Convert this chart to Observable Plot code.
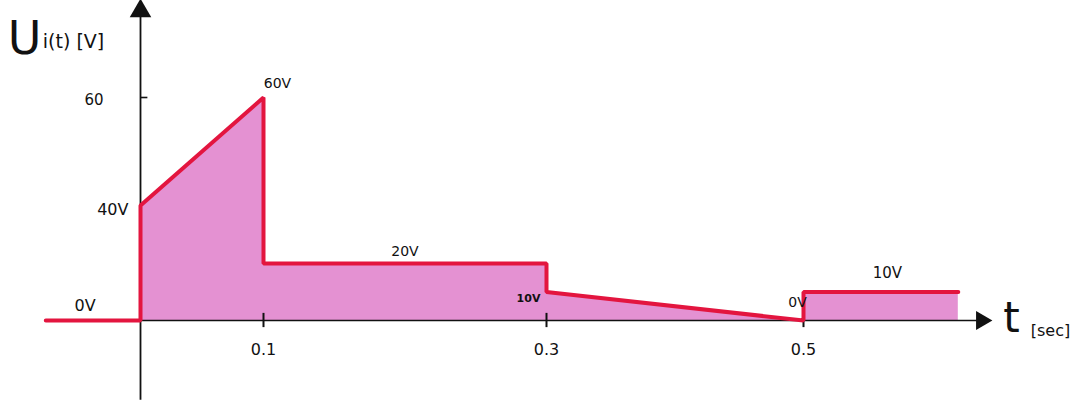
<!DOCTYPE html>
<html>
<head>
<meta charset="utf-8">
<script src="https://cdn.jsdelivr.net/npm/d3@7"></script>
<script src="https://cdn.jsdelivr.net/npm/@observablehq/plot@0.6"></script>
<style>
  html, body { margin: 0; padding: 0; background: #fff; }
  svg { display: block; }
</style>
</head>
<body>
<div id="chart"></div>
<script>
// Signal U_i(t) [V] vs t [sec]
const tPts = [-0.077, 0, 0, 0.1, 0.1, 0.3, 0.3, 0.5, 0.5, 0.62];
const uPts = [0, 0, 40, 60, 20, 20, 10, 0, 10, 10];
const xTicks = [0.1, 0.3, 0.5];
const xTickLabels = ["0.1", "0.3", "0.5"];
const yTicks = [0, 40, 60];
const yTickLabels = ["0V", "40V", "60"];
const annT = [0.1, 0.2, 0.3, 0.5, 0.565];
const annU = [60, 20, 10, 0, 10];
const annLabels = ["60V", "20V", "10V", "0V", "10V"];

const line = tPts.map((t, i) => ({t, u: uPts[i]}));
const area = line.filter(d => d.t >= 0);
const ann = annT.map((t, i) => ({t, u: annU[i], label: annLabels[i]}));

const red = "#e3153f";
const font = "DejaVu Sans, sans-serif";

const chart = Plot.plot({
  width: 1076,
  height: 403,
  margin: 0,
  style: {fontFamily: font, background: "#fff", overflow: "visible"},
  x: {type: "linear", domain: [0, 0.1, 0.3, 0.5, 0.6], range: [140, 263, 546, 803, 932], axis: null},
  y: {type: "linear", domain: [0, 20, 40, 60], range: [320, 263, 205, 97], axis: null},
  marks: [
    // filled area under signal (no stacking)
    Plot.area(area, {x1: "t", y1: 0, y2: "u", fill: "#d862bf", fillOpacity: 0.7}),
    // axes
    Plot.ruleY([0], {x1: -0.077, x2: 0.638, stroke: "#111", strokeWidth: 1.6}),
    Plot.ruleX([0], {y1: -28, y2: 76, stroke: "#111", strokeWidth: 1.8}),
    Plot.dot([{t: 0.638, u: 0}], {x: "t", y: "u", symbol: "triangle", rotate: 90, r: 7, fill: "#111", stroke: "none"}),
    Plot.dot([{t: 0, u: 76}], {x: "t", y: "u", symbol: "triangle", r: 8, fill: "#111", stroke: "none"}),
    // tick marks
    Plot.ruleX(xTicks, {y1: -2.5, y2: 2.5, stroke: "#111", strokeWidth: 2}),
    Plot.ruleY([60], {x1: 0, x2: 0.006, stroke: "#111", strokeWidth: 1.6}),
    // signal line
    Plot.line(line, {x: "t", y: "u", stroke: red, strokeWidth: 4, strokeLinejoin: "miter"}),
    // x tick labels
    Plot.text(xTicks, {x: d => d, y: 0, text: (d, i) => xTickLabels[i], dy: 29, fontSize: 16, fill: "#111", letterSpacing: 2}),
    // y tick labels
    Plot.text([yTicks[0]], {x: -0.045, y: d => d, text: () => yTickLabels[0], dy: -15, fontSize: 16, fill: "#111"}),
    Plot.text([yTicks[1]], {x: 0, y: d => d, text: () => yTickLabels[1], dx: -12, dy: 4, textAnchor: "end", fontSize: 16, fill: "#111"}),
    Plot.text([yTicks[2]], {x: 0, y: d => d, text: () => yTickLabels[2], dx: -37, dy: 3, textAnchor: "end", fontSize: 15, fill: "#111"}),
    // value annotations
    Plot.text([ann[0]], {x: "t", y: "u", text: "label", dx: 14, dy: -14, fontSize: 14, fill: "#111"}),
    Plot.text([ann[1]], {x: "t", y: "u", text: "label", dy: -12, fontSize: 14, fill: "#111"}),
    Plot.text([ann[2]], {x: "t", y: "u", text: "label", dx: -18, dy: 6, fontSize: 11, fontWeight: "bold", fill: "#111"}),
    Plot.text([ann[3]], {x: "t", y: "u", text: "label", dx: -6, dy: -18, fontSize: 14, fill: "#111"}),
    Plot.text([ann[4]], {x: "t", y: "u", text: "label", dy: -19, fontSize: 15, fill: "#111"}),
    // axis titles
    Plot.text(["U"], {x: -0.077, y: 77, text: d => d, dx: -38, dy: 34, fontSize: 46, fill: "#111", textAnchor: "start"}),
    Plot.text(["i(t) [V]"], {x: -0.077, y: 77, text: d => d, dx: -3, dy: 36, fontSize: 19, fill: "#111", textAnchor: "start"}),
    Plot.text(["t"], {x: 0.638, y: 0, text: d => d, dx: 30, dy: -2, fontSize: 42, fill: "#111"}),
    Plot.text(["[sec]"], {x: 0.638, y: 0, text: d => d, dx: 69, dy: 10, fontSize: 16, fill: "#111"})
  ]
});
document.getElementById("chart").appendChild(chart);
</script>
</body>
</html>
